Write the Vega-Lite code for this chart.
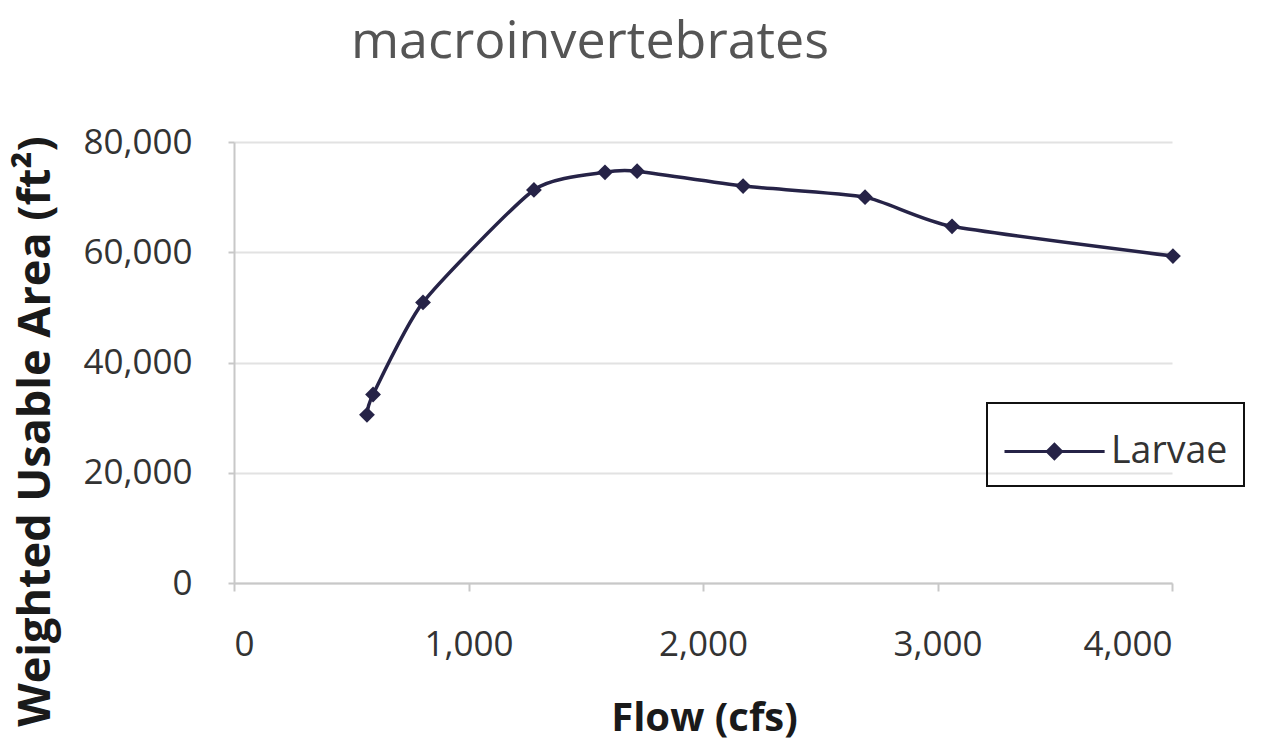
{
  "$schema": "https://vega.github.io/schema/vega-lite/v6.json",
  "width": 938,
  "height": 441,
  "autosize": {"type": "none"},
  "padding": {"left": 234, "top": 142, "right": 90, "bottom": 165},
  "background": "white",
  "title": {
    "text": "macroinvertebrates",
    "fontSize": 52,
    "font": "Open Sans",
    "fontWeight": "normal",
    "color": "#555555",
    "anchor": "middle",
    "dx": -113,
    "offset": 56,
    "frame": "group"
  },
  "config": {
    "view": {"stroke": null},
    "font": "Open Sans"
  },
  "data": {
    "values": [
      {"flow": 567, "wua": 30500, "series": "Larvae"},
      {"flow": 593, "wua": 34200, "series": "Larvae"},
      {"flow": 806, "wua": 50900, "series": "Larvae"},
      {"flow": 1279, "wua": 71300, "series": "Larvae"},
      {"flow": 1582, "wua": 74500, "series": "Larvae"},
      {"flow": 1719, "wua": 74700, "series": "Larvae"},
      {"flow": 2171, "wua": 72000, "series": "Larvae"},
      {"flow": 2691, "wua": 70000, "series": "Larvae"},
      {"flow": 3062, "wua": 64700, "series": "Larvae"},
      {"flow": 4004, "wua": 59300, "series": "Larvae"}
    ]
  },
  "encoding": {
    "x": {
      "field": "flow",
      "type": "quantitative",
      "scale": {"domain": [0, 4000], "nice": false, "zero": true},
      "axis": {
        "values": [0, 1000, 2000, 3000, 4000],
        "format": ",d",
        "grid": false,
        "domainColor": "#c8c8c8",
        "domainWidth": 2,
        "tickColor": "#c8c8c8",
        "tickWidth": 2,
        "tickSize": 8,
        "labelFont": "Open Sans",
        "labelFontSize": 35,
        "labelColor": "#333333",
        "labelPadding": 36,
        "title": "Flow (cfs)",
        "titleFont": "Open Sans",
        "titleFontSize": 40,
        "titleFontWeight": "bold",
        "titleColor": "#1a1a1a",
        "titleX": 470,
        "titleY": 135,
        "titleBaseline": "middle",
        "titleAlign": "center"
      }
    },
    "y": {
      "field": "wua",
      "type": "quantitative",
      "scale": {"domain": [0, 80000], "nice": false},
      "axis": {
        "values": [0, 20000, 40000, 60000, 80000],
        "format": ",d",
        "grid": true,
        "gridColor": "#e2e2e2",
        "gridWidth": 2,
        "domainColor": "#c8c8c8",
        "domainWidth": 2,
        "tickColor": "#c8c8c8",
        "tickWidth": 2,
        "tickSize": 6,
        "labelFont": "Open Sans",
        "labelFontSize": 35,
        "labelColor": "#333333",
        "labelPadding": 36,
        "title": "Weighted Usable Area (ft²)",
        "titleFont": "Open Sans",
        "titleFontSize": 45,
        "titleFontWeight": "bold",
        "titleColor": "#1a1a1a",
        "titleAngle": -90,
        "titleX": -199,
        "titleY": 289,
        "titleBaseline": "middle",
        "titleAlign": "center"
      }
    },
    "color": {
      "field": "series",
      "type": "nominal",
      "scale": {"range": ["#262347"]},
      "legend": {
        "title": null,
        "orient": "none",
        "legendX": 753,
        "legendY": 261,
        "strokeColor": "#111111",
        "padding": 16,
        "symbolType": "M-1,0L2.23,0M0.61,-0.23L0.84,0L0.61,0.23L0.38,0Z",
        "symbolSize": 3844,
        "symbolStrokeWidth": 3,
        "symbolFillColor": "#262347",
        "symbolStrokeColor": "#262347",
        "labelFont": "Open Sans",
        "labelFontSize": 37.5,
        "labelColor": "#333333",
        "labelOffset": 43,
        "encode": {"legend": {"update": {"strokeWidth": {"value": 2}}}}
      }
    }
  },
  "layer": [
    {
      "mark": {"type": "line", "interpolate": "cardinal", "tension": 0.4, "strokeWidth": 3.5}
    },
    {
      "mark": {"type": "point", "shape": "diamond", "filled": true, "size": 250, "opacity": 1}
    }
  ]
}
